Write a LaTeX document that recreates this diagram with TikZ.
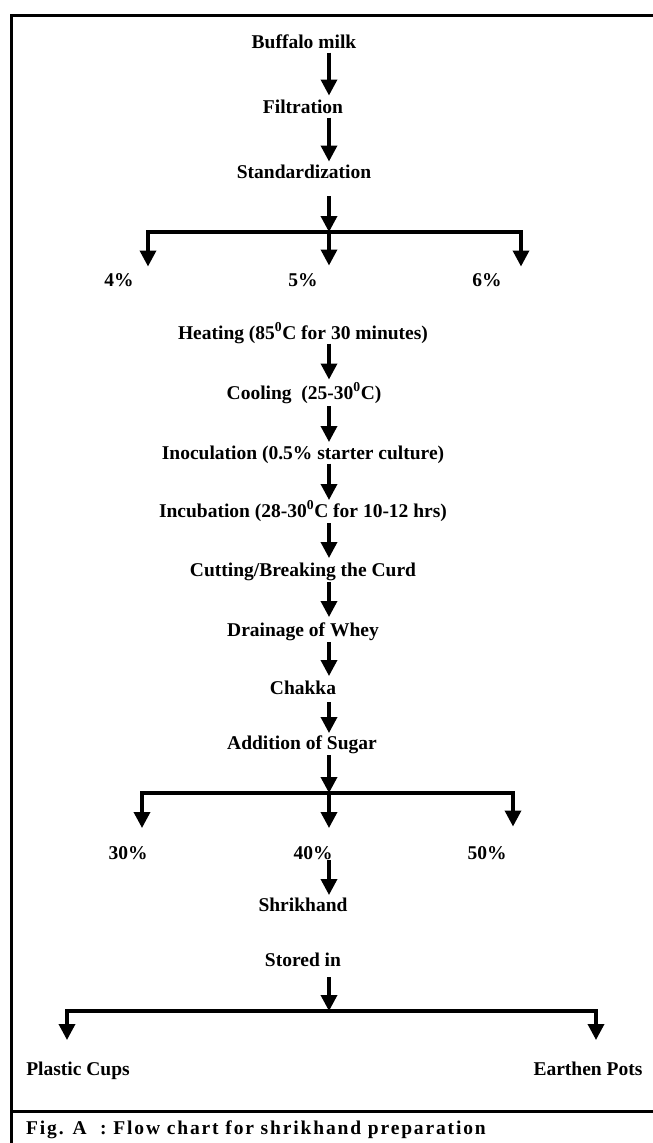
\documentclass[tikz,border=0pt]{standalone}
\usepackage{fontspec}
\setmainfont{Liberation Serif}
\newfontfamily\capfont[LetterSpace=9.5]{Liberation Serif}
\usetikzlibrary{arrows.meta}
\tikzset{
  lbl/.style={font=\bfseries\fontsize{19.5}{23}\selectfont, inner sep=0pt, anchor=base},
  arr/.style={line width=3.5pt, line join=miter, -{Triangle[width=16pt,length=16pt]}},
  frameline/.style={line width=3pt},
}
\begin{document}
\begin{tikzpicture}[x=1pt,y=-1pt]
\useasboundingbox (0,0) rectangle (653,1143);
\clip (0,0) rectangle (653,1143);
\coordinate (ax) at (329,0);
% frame
\draw[frameline] (700,15.5) -- (11.5,15.5) -- (11.5,1160);
\draw[frameline] (11.5,1111) -- (700,1111);
% nodes
\node[lbl] (bm) at (304,48.5) {Buffalo milk};
\node[lbl] (fil) at (303,113.5) {Filtration};
\node[lbl] (std) at (304,178.5) {Standardization};
\node[lbl] (p4) at (119,286.5) {4\%};
\node[lbl] (p5) at (303,286.5) {5\%};
\node[lbl] (p6) at (487,286.5) {6\%};
\node[lbl] (heat) at (303,339.5) {Heating (85\textsuperscript{0}C for 30 minutes)};
\node[lbl] (cool) at (304,399.5) {Cooling\ \ (25-30\textsuperscript{0}C)};
\node[lbl] (inoc) at (303,459.5) {Inoculation (0.5\% starter culture)};
\node[lbl] (incu) at (303,517.5) {Incubation (28-30\textsuperscript{0}C for 10-12 hrs)};
\node[lbl] (cut) at (303,576.5) {Cutting/Breaking the Curd};
\node[lbl] (drain) at (303,636.5) {Drainage of Whey};
\node[lbl] (chakka) at (303,694.5) {Chakka};
\node[lbl] (sugar) at (302,749.5) {Addition of Sugar};
\node[lbl] (s30) at (128,859.5) {30\%};
\node[lbl] (s40) at (313,859.5) {40\%};
\node[lbl] (s50) at (487,859.5) {50\%};
\node[lbl] (shri) at (303,911.5) {Shrikhand};
\node[lbl] (stored) at (303,966.5) {Stored in};
\node[lbl] (cups) at (78,1075.5) {Plastic Cups};
\node[lbl] (pots) at (588,1075.5) {Earthen Pots};
\node[lbl, anchor=base west, font=\capfont\bfseries\fontsize{19.5}{23}\selectfont] (cap) at (26,1134.5) {Fig. A\ \ : Flow chart for shrikhand preparation};
% bar coordinates
\coordinate (b1m) at (329,232); \coordinate (b1l) at (148,232); \coordinate (b1r) at (521,232);
\coordinate (b2m) at (329,793); \coordinate (b2l) at (142,793); \coordinate (b2r) at (513,793);
\coordinate (b3m) at (329,1011); \coordinate (b3l) at (67,1011); \coordinate (b3r) at (596,1011);
% straight arrows
\draw[arr] ([yshift=-4pt]bm.base -| ax) -- ([yshift=18pt]fil.base -| ax);
\draw[arr] ([yshift=-4pt]fil.base -| ax) -- ([yshift=17pt]std.base -| ax);
\draw[arr] ([yshift=-4pt]heat.base -| ax) -- ([yshift=20pt]cool.base -| ax);
\draw[arr] ([yshift=-6.5pt]cool.base -| ax) -- ([yshift=17.5pt]inoc.base -| ax);
\draw[arr] ([yshift=-4pt]inoc.base -| ax) -- ([yshift=17.5pt]incu.base -| ax);
\draw[arr] ([yshift=-5.5pt]incu.base -| ax) -- ([yshift=18.5pt]cut.base -| ax);
\draw[arr] ([yshift=-5.5pt]cut.base -| ax) -- ([yshift=19.5pt]drain.base -| ax);
\draw[arr] ([yshift=-5.5pt]drain.base -| ax) -- ([yshift=18.5pt]chakka.base -| ax);
\draw[arr] ([yshift=-7.5pt]chakka.base -| ax) -- ([yshift=16.5pt]sugar.base -| ax);
\draw[arr] ([yshift=-0.5pt]s40.base -| ax) -- ([yshift=16.5pt]shri.base -| ax);
% branch 1
\draw[arr] ([yshift=-17.5pt]std.base -| ax) -- (b1m);
\draw[arr] (b1m) -| ([yshift=20pt]p4.base -| b1l);
\draw[arr] (b1m) -| ([yshift=20pt]p6.base -| b1r);
\draw[arr] (b1m) -- ([yshift=21pt]p5.base -| ax);
% branch 2
\draw[arr] ([yshift=-5.5pt]sugar.base -| ax) -- (b2m);
\draw[arr] (b2m) -| ([yshift=31.5pt]s30.base -| b2l);
\draw[arr] (b2m) -| ([yshift=33pt]s50.base -| b2r);
\draw[arr] (b2m) -- ([yshift=31.5pt]s40.base -| ax);
% branch 3
\draw[arr] ([yshift=-10.5pt]stored.base -| ax) -- (b3m);
\draw[arr] (b3m) -| ([yshift=35.5pt]cups.base -| b3l);
\draw[arr] (b3m) -| ([yshift=35.5pt]pots.base -| b3r);
\end{tikzpicture}
\end{document}
